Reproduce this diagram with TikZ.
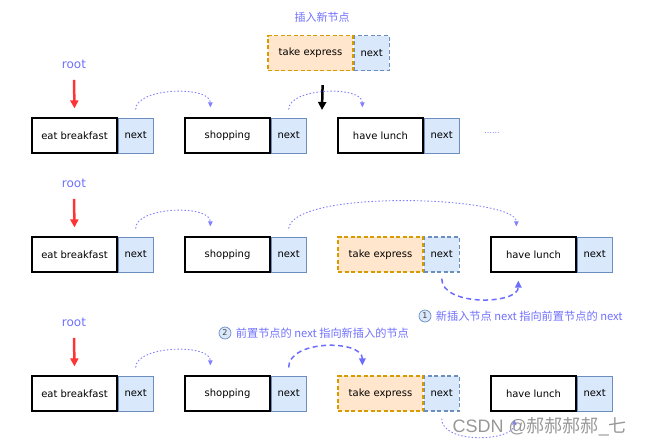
\documentclass[tikz,border=0pt]{standalone}
\usepackage{fontspec}
\setmainfont{DejaVu Sans}
\newfontfamily\cjk{Noto Sans CJK SC}
\newfontfamily\wmfont{Liberation Sans}
\usetikzlibrary{arrows.meta}
\definecolor{nextfill}{HTML}{DAE8FC}
\definecolor{nextline}{HTML}{6C8EBF}
\definecolor{newfill}{HTML}{FFE6CC}
\definecolor{newline}{HTML}{D79B00}
\definecolor{lbl}{HTML}{7070FF}
\definecolor{curve}{HTML}{7F7FFF}
\definecolor{redarrow}{HTML}{FF3333}
\tikzset{
  boxfont/.style={font=\fontsize{10}{11}\selectfont},
  datab/.style={draw=black, line width=1.3pt, fill=white, minimum width=85pt, minimum height=35pt, inner sep=0pt, boxfont},
  nextb/.style={draw=nextline, line width=1pt, fill=nextfill, minimum width=35pt, minimum height=35pt, inner sep=0pt, anchor=west, boxfont},
  newb/.style={draw=newline, line width=1.2pt, dashed, dash pattern=on 4pt off 2.5pt, fill=newfill, minimum width=85pt, minimum height=35pt, inner sep=0pt, boxfont},
  newnext/.style={nextb, dashed, dash pattern=on 4pt off 2.5pt, line width=1.2pt},
  rootlbl/.style={text=lbl, font=\fontsize{12}{13}\selectfont},
  rootarrow/.style={draw=redarrow, line width=2.5pt, -{Triangle[length=8pt,width=8pt]}},
  dotc/.style={draw=curve, line width=0.9pt, dash pattern=on 1.5pt off 2pt, -{Triangle[length=5pt,width=4.5pt]}},
  dashc/.style={draw=curve!85!blue, line width=1.5pt, dash pattern=on 5pt off 3.5pt, -{Triangle[length=7pt,width=6.5pt]}},
  cnote/.style={text=lbl, font=\cjk\fontsize{11.2}{12}\selectfont},
  numc/.style={circle, draw=nextline, fill=nextfill, line width=0.7pt, inner sep=0pt, minimum size=12pt, text=black!75, font=\fontsize{8}{9}\selectfont},
}
\begin{document}
\begin{tikzpicture}[x=1pt,y=-1pt]
\useasboundingbox (0,0) rectangle (649,445);
% ---------- row 1 ----------
\node[text=lbl, font=\cjk\fontsize{11}{12}\selectfont] (title) at (322,17) {插入新节点};
\node[newb] (t0) at (310.5,53) {take express};
\node[newnext] (t0n) at (t0.east) {next};
\node[rootlbl] (r1) at (74,64) {root};
\node[datab] (a1) at (74.5,135.5) {eat breakfast};
\node[nextb] (a1n) at (a1.east) {next};
\node[datab] (b1) at (227.5,135.5) {shopping};
\node[nextb] (b1n) at (b1.east) {next};
\node[datab] (c1) at (380.5,135.5) {have lunch};
\node[nextb] (c1n) at (c1.east) {next};
\node[text=curve, font=\fontsize{8}{10}\selectfont] (dots) at (492,133) {......};
\draw[rootarrow] ([yshift=-8pt]r1.south) -- ([yshift=9pt]a1.north);
\coordinate (ins) at (322,110);
\draw[line width=2.5pt, -{Triangle[length=8pt,width=8pt]}] ([xshift=-31pt,yshift=-14pt]t0n.south west) -- (ins);
\draw[dotc] ([yshift=8pt]a1n.north) .. controls +(0,-22) and +(0,-22) .. ([xshift=26pt,yshift=10pt]b1.north west);
\draw[dotc] ([yshift=8pt]b1n.north) .. controls +(0,-22) and +(0,-22) .. ([xshift=25pt,yshift=10pt]c1.north west);
% ---------- row 2 ----------
\node[rootlbl] (r2) at (74,183) {root};
\node[datab] (a2) at (74.5,254.5) {eat breakfast};
\node[nextb] (a2n) at (a2.east) {next};
\node[datab] (b2) at (227.5,254.5) {shopping};
\node[nextb] (b2n) at (b2.east) {next};
\node[newb] (t2) at (380.5,254.5) {take express};
\node[newnext] (t2n) at (t2.east) {next};
\node[datab] (c2) at (533.5,254.5) {have lunch};
\node[nextb] (c2n) at (c2.east) {next};
\draw[rootarrow] ([yshift=-8pt]r2.south) -- ([yshift=9pt]a2.north);
\draw[dotc] ([yshift=8pt]a2n.north) .. controls +(0,-22) and +(0,-22) .. ([xshift=26pt,yshift=10pt]b2.north west);
\draw[dotc] ([yshift=8pt]b2n.north) .. controls +(5,-40) and +(0,-30) .. ([xshift=26pt,yshift=10pt]c2.north west);
\draw[dashc] ([yshift=-6pt]t2n.south) .. controls +(0,28) and +(0,24) .. ([xshift=28pt,yshift=-8pt]c2.south west);
\node[numc] (n1) at (425,316) {1};
\node[cnote, anchor=west] (note1) at ([xshift=1pt]n1.east) {新插入节点 next 指向前置节点的 next};
% ---------- row 3 ----------
\node[rootlbl] (r3) at (74,322) {root};
\node[numc] (n2) at (225,333) {2};
\node[cnote, anchor=west] (note2) at ([xshift=1pt]n2.east) {前置节点的 next 指向新插入的节点};
\node[datab] (a3) at (74.5,393.5) {eat breakfast};
\node[nextb] (a3n) at (a3.east) {next};
\node[datab] (b3) at (227.5,393.5) {shopping};
\node[nextb] (b3n) at (b3.east) {next};
\node[newb] (t3) at (380.5,393.5) {take express};
\node[newnext] (t3n) at (t3.east) {next};
\node[datab] (c3) at (533.5,393.5) {have lunch};
\node[nextb] (c3n) at (c3.east) {next};
\draw[rootarrow] ([yshift=-8pt]r3.south) -- ([yshift=9pt]a3.north);
\draw[dotc] ([yshift=8pt]a3n.north) .. controls +(0,-22) and +(0,-22) .. ([xshift=26pt,yshift=10pt]b3.north west);
\draw[dashc] ([yshift=8pt]b3n.north) .. controls +(0,-28) and +(0,-26) .. ([xshift=25pt,yshift=10pt]t3.north west);
\draw[dotc] ([yshift=-7pt]t3n.south) .. controls +(0,26) and +(0,22) .. ([xshift=24pt,yshift=-8pt]c3.south west);
\node[text=black!45, opacity=0.9, font=\wmfont\fontsize{18}{20}\selectfont, anchor=west] (wm) at (449,427) {CSDN @{\cjk 郝郝郝郝}\_{\cjk 七}};
\end{tikzpicture}
\end{document}
